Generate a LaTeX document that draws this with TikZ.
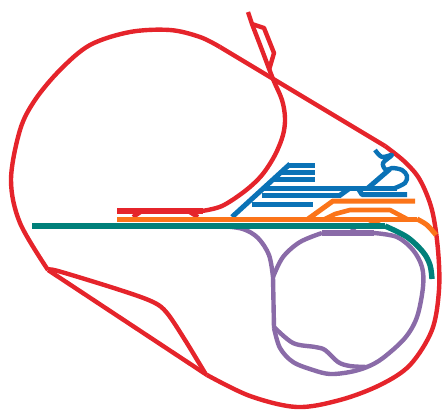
\documentclass[tikz,border=0pt]{standalone}
\definecolor{cred}{HTML}{E5242B}
\definecolor{cteal}{HTML}{00807A}
\definecolor{corange}{HTML}{FB7419}
\definecolor{cblue}{HTML}{0A72B6}
\definecolor{cpurple}{HTML}{8A6BA8}
\tikzset{
 redline/.style={draw=cred,line width=4.4pt,line join=round},
 redthick/.style={draw=cred,line width=5.6pt},
 tealline/.style={draw=cteal,line width=5.4pt,line join=round},
 orangeline/.style={draw=corange,line width=5pt,line join=round},
 orangethin/.style={draw=corange,line width=4.6pt,line join=round},
 blueline/.style={draw=cblue,line width=5pt,line join=round},
 bluethin/.style={draw=cblue,line width=4.4pt,line join=round},
 purpleline/.style={draw=cpurple,line width=4.4pt,line join=round},
 purplethick/.style={draw=cpurple,line width=5.6pt},
 curve/.style={smooth,tension=0.55}
}
\begin{document}
\begin{tikzpicture}[x=1pt,y=-1pt]
\useasboundingbox (0,0) rectangle (442,410);
% purple
\draw[purpleline] plot[curve] coordinates {(222,226) (243,229) (258,238) (269,255) (273,277)} -- (274,328);
\draw[purpleline] plot[curve] coordinates {(273,277) (283,257) (300,242) (322,233)};
\draw[purplethick] (322,233) -- (374,233);
\draw[purpleline] (350,234) -- (355,227);
\draw[purpleline] plot[curve] coordinates {(374,233) (397,237) (413,250) (422,267) (423,287) (417,317) (405,338) (383,358) (367,367) (350,372) (330,374) (313,370) (293,362) (280,348) (274,328)};
\draw[purpleline] plot[curve] coordinates {(274,327) (293,343) (315,347) (325,350) (338,362) (350,366) (367,367)};
% red
\draw[redline] plot[curve] coordinates {(202,211) (222,206) (245,191) (262,175) (275,155) (283,135) (285,118) (282,100) (273,79) (262,50) (252,24)} -- (248,12);
\draw[redthick] (117,211) -- (203,211);
\draw[redline] (133,217) -- (142,211);
\draw[redline] (188,211) -- (198,217);
\draw[redline] (252,24) -- (264,28) -- (274,53) -- (269,70);
\draw[redline] plot[curve] coordinates {(220,47) (200,37) (170,30) (130,32) (90,45) (60,70) (35,100) (20,130) (11,180) (20,223) (48,270)};
\draw[redline] (220,47) -- (385,146);
\draw[redline] plot[curve] coordinates {(385,146) (405,162) (420,180) (432,210) (438,250) (439,290) (432,330) (410,365) (380,385) (340,400) (297,407) (250,396) (207,375)};
\draw[redline] (207,375) -- (48,270);
\draw[redline] plot[curve] coordinates {(48,270) (58,271) (120,290) (153,302) (167,313) (185,340) (205,373)};
% blue
\draw[blueline] (232,217) -- (290,164);
\draw[blueline] (287,165) -- (315,165);
\draw[blueline] (280,172) -- (315,172);
\draw[blueline] (273,179) -- (315,179);
\draw[blueline] (263,188) -- (397,188);
\draw[blueline] (262,195) -- (341,195);
\draw[blueline] (252,204) -- (313,204);
\draw[blueline] (339,196) -- (350,188);
\draw[blueline] (358,188) -- (362,194.5) -- (407,194.5);
\draw[blueline] (368,188) -- (390,169);
\draw[bluethin] plot[curve] coordinates {(395,188) (405,183) (407,176) (402,170) (392,168) (386,170) (383,163) (392,155) (382,157) (375,150)};
% orange
\draw[orangeline] (117,219) -- (417,219);
\draw[orangeline] plot[curve] coordinates {(417,219) (427,225) (436,235)};
\draw[orangeline] (308,219) -- (333,201) -- (415,201);
\draw[orangethin] (325,219) -- (335,214) -- (350,210) -- (390,210) -- (407,219);
\draw[orangethin] (367,219) -- (380,225);
% teal
\draw[tealline] (32,226) -- (385,226);
\draw[tealline] plot[curve] coordinates {(385,226) (407,237) (423,252) (430,265) (432,279)};
\end{tikzpicture}
\end{document}
